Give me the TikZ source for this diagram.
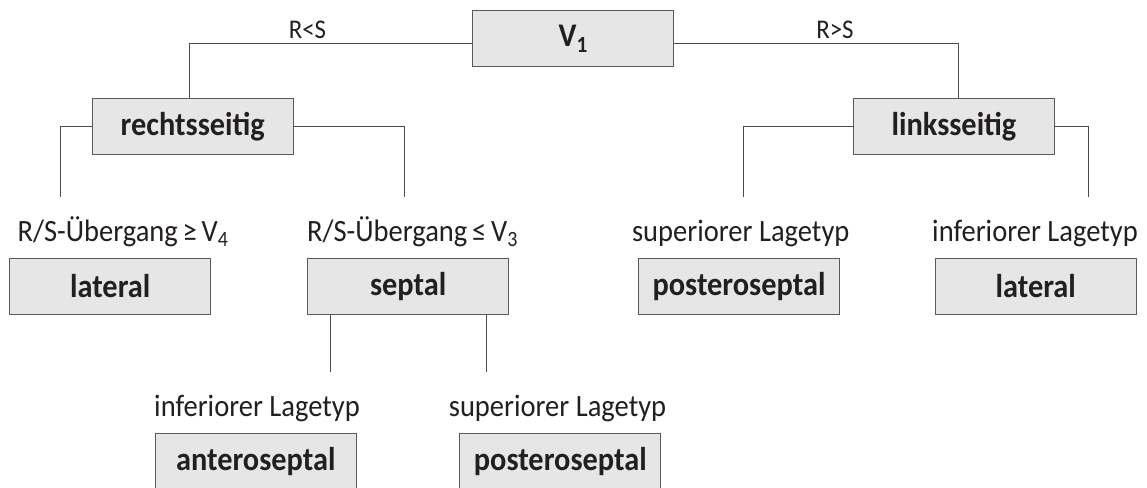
\documentclass[tikz,border=0pt]{standalone}
\usepackage{fontspec}
\setmainfont{Carlito}
\definecolor{boxfill}{HTML}{E6E6E6}
\definecolor{boxedge}{HTML}{5A5A5A}
\definecolor{wire}{HTML}{4A4A4A}
\definecolor{ink}{HTML}{231F20}
% slightly condensed setting of a piece of text
\newcommand{\narrowtext}[1]{\scalebox{0.92}[1]{#1}}
\tikzset{
  decision/.style={draw=boxedge, fill=boxfill, line width=1.2pt,
    minimum width=201pt, minimum height=56pt, inner sep=0pt,
    text=ink, font=\bfseries\fontsize{33}{34}\selectfont},
  cond/.style={anchor=base, inner sep=0pt, text=ink,
    font=\fontsize{31}{32}\selectfont},
  branch/.style={anchor=base, inner sep=0pt, text=ink,
    font=\fontsize{27}{28}\selectfont},
  wirestyle/.style={draw=wire, line width=1pt}
}
\begin{document}
\begin{tikzpicture}[x=1pt, y=-1pt]
\useasboundingbox (0,0) rectangle (1147,487);
\clip (0,0) rectangle (1147,487);
\fill[white] (0,0) rectangle (1147,487);

% decision boxes
\node[decision] (v1) at (573.2,38.7) {\narrowtext{V\textsubscript{1}}};
\node[decision] (rechts) at (192.8,126.2) {\narrowtext{rechtsseitig}};
\node[decision] (links) at (954,126.2) {\narrowtext{linksseitig}};
\node[decision] (latL) at (110.2,286.3) {\narrowtext{lateral}};
\node[decision] (septal) at (408.2,286.3) {\narrowtext{septal}};
\node[decision] (posR) at (739,286.3) {\narrowtext{posteroseptal}};
\node[decision] (latR) at (1035.8,286.3) {\narrowtext{lateral}};
\node[decision] (antero) at (255.8,461.3) {\narrowtext{anteroseptal}};
\node[decision] (posB) at (560.3,461.3) {\narrowtext{posteroseptal}};

% branch labels on the top level
\node[branch] (lt) at (307.5,38) {\narrowtext{R<S}};
\node[branch] (gt) at (835,38) {\narrowtext{R>S}};

% conditions above the leaf boxes
\node[cond] (cL) at (123,241) {\narrowtext{R/S-Übergang\,≥\,V\textsubscript{4}}};
\node[cond] (cS) at (412.5,241) {\narrowtext{R/S-Übergang\,≤\,V\textsubscript{3}}};
\node[cond] (cP) at (740.7,241) {\narrowtext{superiorer Lagetyp}};
\node[cond] (cR) at (1035,241) {\narrowtext{inferiorer Lagetyp}};
\node[cond] (cA) at (257,416) {\narrowtext{inferiorer Lagetyp}};
\node[cond] (cB) at (557.5,416) {\narrowtext{superiorer Lagetyp}};

% free ends of the open connectors
\coordinate (eRL) at (60,197);
\coordinate (eRR) at (404.3,197);
\coordinate (eLL) at (743,197);
\coordinate (eLR) at (1088,197);
\coordinate (eSA) at (330,371.7);
\coordinate (eSB) at (486.7,371.7);

% connectors
\draw[wirestyle] ([yshift=-5pt]v1.west) -| ([xshift=-3.5pt]rechts.north);
\draw[wirestyle] ([yshift=-5pt]v1.east) -| ([xshift=4pt]links.north);
\draw[wirestyle] (rechts.west) -| (eRL);
\draw[wirestyle] (rechts.east) -| (eRR);
\draw[wirestyle] (links.west) -| (eLL);
\draw[wirestyle] (links.east) -| (eLR);
\draw[wirestyle] (septal.south -| eSA) -- (eSA);
\draw[wirestyle] (septal.south -| eSB) -- (eSB);
\end{tikzpicture}
\end{document}
